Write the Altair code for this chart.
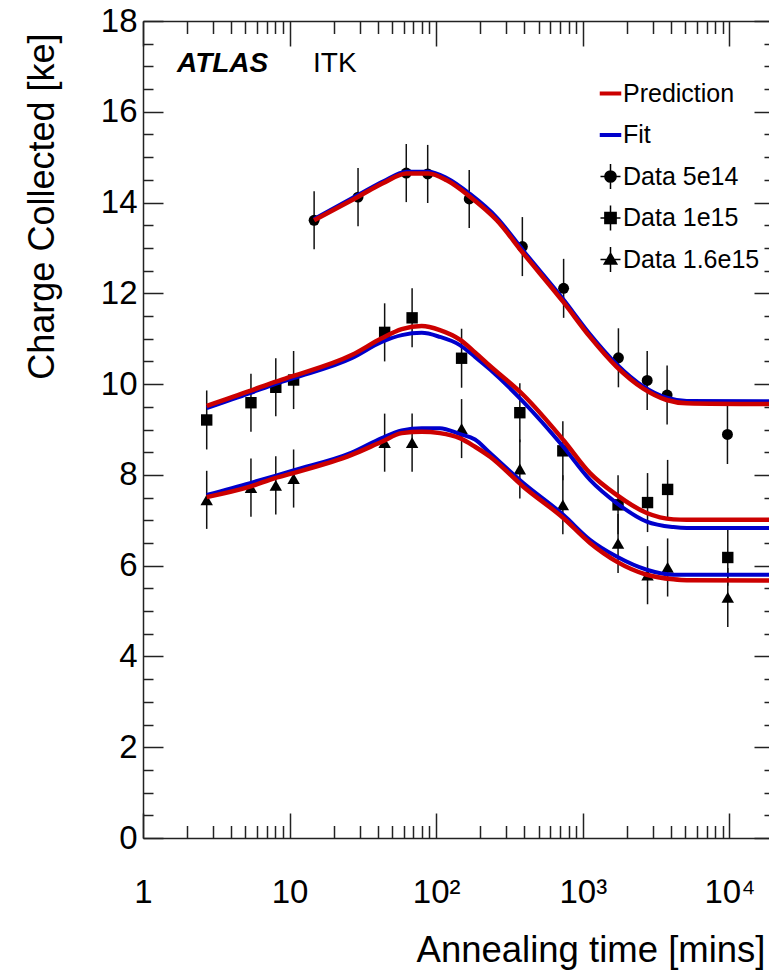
import altair as alt
import pandas as pd

# ---- measured charge collected vs annealing time ----------------------------
t_5e14 = [14.7, 29.3, 62.5, 87.5, 168, 387, 740, 1750, 2750, 3760, 9700]
q_5e14 = [13.61, 14.12, 14.65, 14.63, 14.08, 13.03, 12.11, 10.58, 10.08, 9.76, 8.89]
e_5e14 = [0.64, 0.64, 0.64, 0.64, 0.64, 0.65, 0.65, 0.65, 0.65, 0.65, 0.65]

t_meas = [2.72, 5.45, 8.05, 10.65, 44.5, 68.5, 149, 372, 731, 1740, 2765, 3790, 9750]
q_1e15 = [9.21, 9.59, 9.93, 10.09, 11.14, 11.46, 10.57, 9.37, 8.53, 7.34, 7.39, 7.68, 6.18]
e_1e15 = [0.65, 0.64, 0.64, 0.64, 0.64, 0.65, 0.65, 0.65, 0.65, 0.65, 0.65, 0.65, 0.62]
q_16e15 = [7.45, 7.72, 7.77, 7.92, 8.71, 8.71, 9.02, 8.13, 7.34, 6.49, 5.79, 5.96, 5.30]
e_16e15 = [0.64, 0.64, 0.64, 0.64, 0.64, 0.64, 0.65, 0.65, 0.65, 0.65, 0.64, 0.64, 0.65]

# ---- model curves (prediction and fit) --------------------------------------
tc_5e14 = [14.7, 29.4, 43.6, 62.9, 88.3, 118, 170, 259, 393, 736, 1120, 1702,
           2588, 3733, 5117, 20000]
pred_5e14 = [13.61, 14.13, 14.43, 14.64, 14.64, 14.49, 14.13, 13.61, 12.88, 11.81,
             11.04, 10.38, 9.90, 9.65, 9.58, 9.56]
fit_5e14 = [13.64, 14.17, 14.47, 14.68, 14.68, 14.54, 14.19, 13.67, 12.94, 11.87,
            11.10, 10.44, 9.95, 9.70, 9.63, 9.62]

tc_meas = [2.72, 5.37, 7.95, 10.6, 26.5, 42.5, 58.2, 79.7, 106, 145, 184, 233,
           393, 736, 1120, 1702, 2730, 4150, 5117, 20000]
pred_1e15 = [9.52, 9.85, 10.05, 10.18, 10.64, 11.01, 11.21, 11.28, 11.19, 10.98,
             10.70, 10.40, 9.76, 8.77, 8.04, 7.56, 7.16, 7.02, 7.01, 7.01]
fit_1e15 = [9.47, 9.80, 10.00, 10.13, 10.57, 10.93, 11.08, 11.13, 11.04, 10.86,
            10.60, 10.32, 9.61, 8.62, 7.89, 7.38, 6.97, 6.85, 6.83, 6.83]
pred_16e15 = [7.51, 7.74, 7.93, 8.04, 8.44, 8.73, 8.92, 8.95, 8.92, 8.81,
              8.62, 8.40, 7.74, 7.05, 6.50, 6.09, 5.80, 5.70, 5.68, 5.67]
fit_16e15 = [7.56, 7.82, 7.98, 8.10, 8.49, 8.81, 8.98, 9.03, 9.03, 8.90,
             8.78, 8.48, 7.82, 7.12, 6.57, 6.20, 5.91, 5.80, 5.80, 5.80]

# ---- axis ticks and legend -------------------------------------------------
x_major = [1, 10, 100, 1000, 10000]
x_labels = ["1", "10", "10²", "10³", "10⁴"]
y_major = [0, 2, 4, 6, 8, 10, 12, 14, 16, 18]
legend_labels = ["Prediction", "Fit", "Data 5e14", "Data 1e15", "Data 1.6e15"]

XMAX = 18630
FONT = "Liberation Sans"
AXC = "#222222"
RED = "#cc0000"
BLUE = "#0000cc"

x_minor = [m * 10 ** k for k in range(5) for m in range(2, 10) if m * 10 ** k <= XMAX]
y_minor = [v + 0.5 * i for v in y_major[:-1] for i in (1, 2, 3)]

xs = alt.Scale(type="log", domain=[1, XMAX], nice=False)
ys = alt.Scale(domain=[0, 18], nice=False, zero=False)

# ---- tables -------------------------------------------------------------
def meas(series, t, q, e):
    return pd.DataFrame({"series": series, "t": t, "v": q,
                         "lo": [a - b for a, b in zip(q, e)],
                         "hi": [a + b for a, b in zip(q, e)]})

d5 = meas("Data 5e14", t_5e14, q_5e14, e_5e14)
d10 = meas("Data 1e15", t_meas, q_1e15, e_1e15)
d16 = meas("Data 1.6e15", t_meas, q_16e15, e_16e15)
pts = pd.concat([d5, d10, d16], ignore_index=True)

def curve(kind, flu, t, v):
    return pd.DataFrame({"kind": kind, "fluence": flu, "t": t, "v": v})

curves = pd.concat([
    curve("Prediction", "5e14", tc_5e14, pred_5e14),
    curve("Fit", "5e14", tc_5e14, fit_5e14),
    curve("Prediction", "1e15", tc_meas, pred_1e15),
    curve("Fit", "1e15", tc_meas, fit_1e15),
    curve("Prediction", "1.6e15", tc_meas, pred_16e15),
    curve("Fit", "1.6e15", tc_meas, fit_16e15),
], ignore_index=True)

leg_df = pd.DataFrame({"label": legend_labels})

# ---- axes (ticks point inward, ROOT style) ---------------------------------
def axis(orient, **kw):
    base = dict(orient=orient, grid=False, domain=False, labels=False, ticks=True,
                tickColor=AXC, tickWidth=1.5, title=None, labelFlush=False,
                labelOverlap=False)
    base.update(kw)
    return alt.Axis(**base)

label_expr = " : ".join(
    f"datum.value == {v} ? '{s}'" for v, s in zip(x_major[:-1], x_labels[:-1])
) + f" : '{x_labels[-1]}'"

ax_bottom = axis("bottom", values=x_major, offset=-25, tickSize=25, labels=True,
                 labelFont=FONT, labelFontSize=33, labelColor="black",
                 labelPadding=38.5, labelExpr=label_expr,
                 title="Annealing time [mins]", titleFont=FONT, titleFontSize=36.5,
                 titleFontWeight="normal", titleColor="black", titleX=622,
                 titleY=148, titleAlign="right", titleBaseline="alphabetic")
ax_bottom_minor = axis("bottom", values=x_minor, offset=-12.5, tickSize=12.5)
ax_top = axis("top", values=x_major, offset=-25, tickSize=25)
ax_top_minor = axis("top", values=x_minor, offset=-12.5, tickSize=12.5)

ax_left = axis("left", values=y_major, offset=-20, tickSize=20, labels=True,
               labelFont=FONT, labelFontSize=33, labelColor="black",
               labelPadding=6, title="Charge Collected [ke]", titleFont=FONT,
               titleFontSize=36, titleFontWeight="normal", titleColor="black",
               titleAngle=270, titleX=-110, titleY=12, titleAlign="right",
               titleBaseline="alphabetic")
ax_left_minor = axis("left", values=y_minor, offset=-10, tickSize=10)
ax_right = axis("right", values=y_major, offset=-15, tickSize=15)
ax_right_minor = axis("right", values=y_minor, offset=-5, tickSize=5)

frame_bottom = axis("bottom", ticks=False, domain=True, domainColor=AXC, domainWidth=1.5)
frame_top = axis("top", ticks=False, domain=True, domainColor=AXC, domainWidth=1.5)
frame_left = axis("left", ticks=False, domain=True, domainColor=AXC, domainWidth=1.5)


def guide(xaxis, yaxis):
    return alt.Chart(pts).mark_point(opacity=0).encode(
        x=alt.X("t:Q", scale=xs, axis=xaxis),
        y=alt.Y("v:Q", scale=ys, axis=yaxis),
    )

# ---- marks ------------------------------------------------------------------
errbars = alt.Chart(pts).mark_rule(color="#111111", strokeWidth=1.5).encode(
    x=alt.X("t:Q", scale=xs, axis=ax_bottom),
    y=alt.Y("lo:Q", scale=ys, axis=ax_left),
    y2="hi:Q",
)

def markers(df, shape, size):
    return alt.Chart(df).mark_point(shape=shape, filled=True, color="black",
                                    opacity=1, size=size, strokeWidth=0).encode(
        x=alt.X("t:Q", scale=xs, axis=None),
        y=alt.Y("v:Q", scale=ys, axis=None),
    )

def lines(kind, color, width):
    return alt.Chart(curves).transform_filter(
        alt.datum.kind == kind
    ).mark_line(color=color, strokeWidth=width, interpolate="monotone",
                clip=True).encode(
        x=alt.X("t:Q", scale=xs, axis=None),
        y=alt.Y("v:Q", scale=ys, axis=None),
        detail="fluence:N",
    )

# legend glyphs: unit = 7 px (symbolSize 196)
LINE_SYM = "M-1.43,-0.19H1.43V0.19H-1.43Z M0,-1.8L0,-1.8 M0,1.8L0,1.8"
CIRC_SYM = ("M-1.43,0H1.43M0,-1.8V1.8M0.8,0A0.8,0.8 0 1,1 -0.8,0"
            "A0.8,0.8 0 1,1 0.8,0Z")
SQ_SYM = "M-1.43,0H1.43M0,-1.8V1.8M-0.8,-0.8H0.8V0.8H-0.8Z"
TRI_SYM = "M-1.43,0H1.43M0,-1.8V1.8M0,-0.9L0.9,0.65L-0.9,0.65Z"

leg = alt.Legend(title=None, orient="none", legendX=452, legendY=60,
                 direction="vertical", labelFont=FONT, labelFontSize=25,
                 labelColor="black", labelLimit=400, symbolSize=196,
                 symbolStrokeWidth=1.5, symbolOpacity=1, labelOffset=0,
                 symbolOffset=3, rowPadding=8.5, padding=0)
leg_colors = [RED, BLUE, "black", "black", "black"]
leg_scale = alt.Scale(domain=legend_labels, range=leg_colors)
legend_layer = alt.Chart(leg_df).mark_point(opacity=0).encode(
    fill=alt.Fill("label:N", scale=leg_scale, legend=leg, sort=legend_labels),
    stroke=alt.Stroke("label:N", scale=leg_scale, legend=leg, sort=legend_labels),
    shape=alt.Shape("label:N", scale=alt.Scale(domain=legend_labels,
                    range=[LINE_SYM, LINE_SYM, CIRC_SYM, SQ_SYM, TRI_SYM]),
                    legend=leg, sort=legend_labels),
)

atlas = alt.Chart(pd.DataFrame({"s": ["ATLAS"]})).mark_text(
    font=FONT, fontSize=28, fontWeight="bold", fontStyle="italic",
    align="left", baseline="alphabetic", color="black",
).encode(text="s:N", x=alt.value(34), y=alt.value(51))
itk = alt.Chart(pd.DataFrame({"s": ["ITK"]})).mark_text(
    font=FONT, fontSize=28, align="left", baseline="alphabetic", color="black",
).encode(text="s:N", x=alt.value(170), y=alt.value(51))

chart = alt.layer(
    errbars,
    markers(d5, "circle", 120),
    markers(d10, "square", 130),
    markers(d16, "triangle-up", 155),
    lines("Fit", BLUE, 4),
    lines("Prediction", RED, 4.5),
    guide(ax_bottom_minor, ax_left_minor),
    guide(ax_top, ax_right),
    guide(ax_top_minor, ax_right_minor),
    guide(frame_bottom, frame_left),
    guide(frame_top, None),
    legend_layer,
    atlas,
    itk,
).resolve_axis(
    x="independent", y="independent"
).properties(
    width=626, height=817,
    autosize=alt.AutoSizeParams(type="none"),
    padding={"left": 143, "top": 21, "right": 0, "bottom": 134},
).configure_view(stroke=None).configure(background="white")

chart.save("out.html", embed_options={"renderer": "svg", "actions": False})
